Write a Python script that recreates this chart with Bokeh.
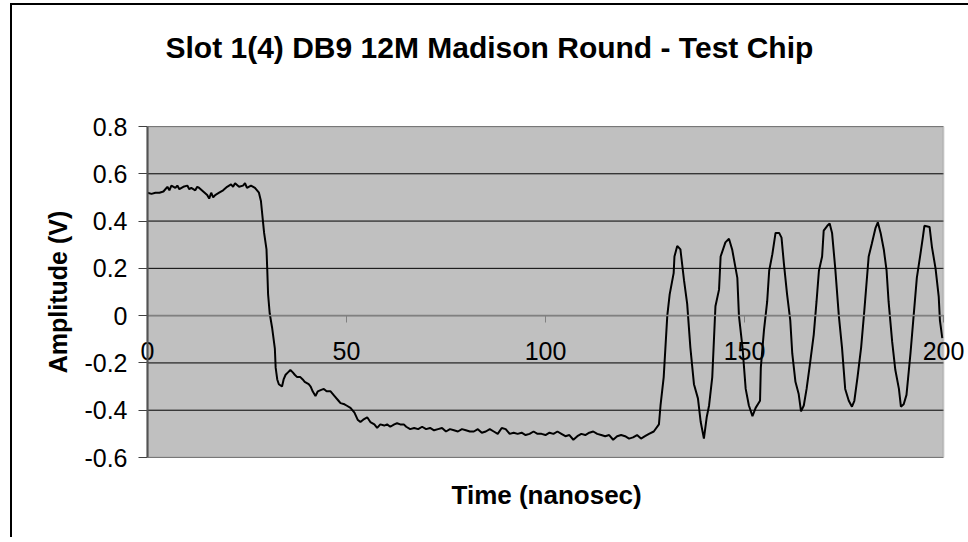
from bokeh.plotting import figure
from bokeh.models import (FixedTicker, Title, Range1d, LinearAxis, BoxAnnotation)
from bokeh.embed import file_html
from bokeh.resources import INLINE

title_text = "Slot 1(4) DB9 12M Madison Round - Test Chip"
x_title = "Time (nanosec)"
y_title = "Amplitude (V)"
x_ticks = [0, 50, 100, 150, 200]
x_tick_labels = ["0", "50", "100", "150", "200"]
y_ticks = [-0.6, -0.4, -0.2, 0, 0.2, 0.4, 0.6, 0.8]
y_tick_labels = ["-0.6", "-0.4", "-0.2", "0", "0.2", "0.4", "0.6", "0.8"]

time_ns = [
    0, 1, 2, 3, 4, 5, 5.5, 6, 7, 7.5, 8, 9, 10, 10.5, 11, 12, 12.5, 13, 14, 15,
    15.5, 16, 16.5, 17, 18, 19, 20, 21, 21.5, 22, 23, 24, 24.5, 25, 26, 27, 28,
    28.5, 29.3, 29.9, 30.1, 30.3, 30.7, 31.3, 32, 32.2, 32.6, 33, 33.8, 34.2,
    34.7, 35.3, 35.9, 36.5, 37, 37.6, 38.4, 39, 39.5, 40.5, 41, 41.5, 42.2,
    42.8, 43.5, 44.3, 45, 46, 47, 48, 48.5, 49.5, 50, 51, 52, 52.8, 53.5, 54.2,
    55.2, 56, 57, 57.7, 58.5, 59.5, 60.2, 61, 62, 62.7, 63.5, 64.4, 65, 66, 67,
    68, 69, 70, 71, 72, 73, 74, 75, 76, 77, 78, 79, 80, 81, 82, 83, 84, 85, 86,
    87, 88, 89, 90, 91, 92, 93, 94, 95, 96, 97, 98, 99, 100, 101, 102, 103, 104,
    105, 106, 107, 108, 109, 110, 111, 112, 113, 114, 115, 116, 117, 118, 119,
    120, 121, 122, 123, 124, 125, 126, 127.2, 128.5, 128.9, 129.7, 130.6, 131.2,
    132.2, 132.4, 133.1, 133.9, 134.8, 135.6, 136.4, 137.3, 138.3, 139, 139.8,
    140.5, 141.1, 141.9, 142.7, 143.6, 144, 145.2, 146.1, 146.9, 148.2, 148.6,
    149.5, 150.3, 151.1, 152, 152.8, 153.9, 154.1, 154.9, 155.7, 156.2, 157,
    157.8, 158.7, 159.3, 159.9, 160.7, 161.5, 162, 162.8, 163.6, 164.2, 164.9,
    165.6, 166.4, 167.4, 168.1, 168.7, 169.5, 169.9, 170.8, 171.4, 172, 172.8,
    173.7, 174.5, 175.3, 176.2, 177, 177.6, 178.4, 179.3, 180.1, 181.2, 182,
    182.9, 183.5, 184.2, 185, 185.7, 186.2, 187.1, 187.9, 188.8, 189.3, 190,
    190.7, 191.7, 192.5, 193.3, 194.2, 194.8, 195.2, 196.5, 197.1, 198, 198.8,
    199.1, 199.7,
]
amplitude_v = [
    0.52, 0.515, 0.52, 0.52, 0.525, 0.545, 0.53, 0.55, 0.54, 0.55, 0.535, 0.545,
    0.55, 0.535, 0.54, 0.53, 0.545, 0.54, 0.525, 0.51, 0.495, 0.52, 0.50, 0.51,
    0.52, 0.53, 0.545, 0.555, 0.545, 0.56, 0.545, 0.55, 0.56, 0.54, 0.55, 0.54,
    0.52, 0.485, 0.35, 0.28, 0.19, 0.09, 0.01, -0.05, -0.14, -0.22, -0.27,
    -0.29, -0.30, -0.27, -0.25, -0.24, -0.23, -0.24, -0.25, -0.26, -0.26, -0.27,
    -0.28, -0.29, -0.30, -0.32, -0.34, -0.32, -0.315, -0.31, -0.32, -0.32,
    -0.34, -0.36, -0.37, -0.375, -0.38, -0.39, -0.41, -0.44, -0.45, -0.44,
    -0.43, -0.45, -0.46, -0.475, -0.46, -0.465, -0.46, -0.47, -0.46, -0.455,
    -0.46, -0.46, -0.47, -0.48, -0.475, -0.48, -0.47, -0.48, -0.475, -0.485,
    -0.48, -0.475, -0.49, -0.48, -0.485, -0.49, -0.48, -0.485, -0.49, -0.49,
    -0.48, -0.495, -0.49, -0.48, -0.49, -0.50, -0.475, -0.48, -0.50, -0.495,
    -0.50, -0.495, -0.505, -0.50, -0.49, -0.50, -0.50, -0.505, -0.495, -0.50,
    -0.49, -0.50, -0.51, -0.505, -0.525, -0.51, -0.50, -0.505, -0.495, -0.49,
    -0.50, -0.505, -0.51, -0.505, -0.525, -0.51, -0.505, -0.51, -0.52, -0.515,
    -0.505, -0.52, -0.51, -0.50, -0.49, -0.46, -0.38, -0.26, 0.0, 0.09, 0.18,
    0.25, 0.295, 0.28, 0.15, 0.05, -0.135, -0.29, -0.35, -0.45, -0.52, -0.43,
    -0.38, -0.26, 0.04, 0.11, 0.25, 0.31, 0.325, 0.28, 0.16, 0.0, -0.135, -0.31,
    -0.38, -0.425, -0.39, -0.36, -0.22, -0.06, 0.06, 0.19, 0.26, 0.35, 0.35,
    0.33, 0.22, 0.09, -0.02, -0.16, -0.28, -0.33, -0.405, -0.38, -0.31, -0.21,
    -0.08, 0.06, 0.19, 0.25, 0.36, 0.38, 0.39, 0.35, 0.20, 0.0, -0.135, -0.31,
    -0.36, -0.385, -0.36, -0.26, -0.135, 0.02, 0.25, 0.305, 0.37, 0.395, 0.35,
    0.28, 0.19, 0.06, -0.11, -0.23, -0.31, -0.385, -0.375, -0.335, -0.16, 0.0,
    0.16, 0.26, 0.33, 0.38, 0.375, 0.29, 0.20, 0.08, -0.02, -0.095,
]

FONT = "Liberation Sans"

# plot area: 796 px for the 200 ns span; the Bokeh frame is a little wider
# (8 px on the left, 23 px on the right) so the end tick labels are not clipped
X0, X1 = x_ticks[0], x_ticks[-1]
Y0, Y1 = y_ticks[0], y_ticks[-1]
PLOT_W = 796
px_per_ns = PLOT_W / (X1 - X0)
PAD_L, PAD_R = 8, 23

p = figure(
    frame_width=PLOT_W + PAD_L + PAD_R, frame_height=331,
    x_range=Range1d(X0 - PAD_L / px_per_ns, X1 + PAD_R / px_per_ns),
    y_range=Range1d(Y0, Y1),
    output_backend="svg", toolbar_location=None, title=None,
    min_border_left=147 - PAD_L, min_border_right=2,
    min_border_top=125, min_border_bottom=80,
    background_fill_color=None, border_fill_color=None,
)
p.outline_line_color = None
# outer chart border (only its left and top edges are inside the window)
p.styles = {
    "background": (
        "linear-gradient(#000, #000) 10px 3px / 2px 3000px no-repeat, "
        "linear-gradient(#000, #000) 10px 3px / 3000px 2px no-repeat, #ffffff"
    )
}

# titles: a thin spacer next to the frame, then the chart title
spacer = Title(text=" ", text_font_size="1px", standoff=32)
p.add_layout(spacer, "above")
main_title = Title(text=title_text, text_font=FONT, text_font_size="30px",
                   text_font_style="bold", align="left", offset=26,
                   standoff=56, text_color="black")
p.add_layout(main_title, "above")

xt = Title(text=x_title, text_font=FONT, text_font_size="26px",
           text_font_style="bold", align="left", offset=312, standoff=41,
           text_color="black")
p.add_layout(xt, "below")

# grey plot area with its grey border
p.add_layout(BoxAnnotation(left=X0, right=X1, bottom=Y0, top=Y1,
                           fill_color="#C0C0C0", fill_alpha=1,
                           line_color=None, level="underlay"))

p.xgrid.visible = False
p.ygrid.visible = False
p.segment(x0=X0, x1=X1, y0=y_ticks, y1=y_ticks, line_color="black", line_width=1)

p.line(time_ns, amplitude_v, line_color="black", line_width=2)

p.add_layout(BoxAnnotation(left=X0, right=X1, bottom=Y0, top=Y1,
                           fill_color=None, line_color="#808080", line_width=2))

# left axis: tick marks + labels (ticks reach the plot-area edge)
ya = p.yaxis[0]
ya.ticker = FixedTicker(ticks=y_ticks)
ya.major_label_overrides = {t: s for t, s in zip(y_ticks, y_tick_labels)}
ya.axis_label = y_title
ya.axis_label_text_font = FONT
ya.axis_label_text_font_size = "25px"
ya.axis_label_text_font_style = "bold"
ya.axis_label_text_color = "black"
ya.axis_label_standoff = 9
ya.major_label_text_font = FONT
ya.major_label_text_font_size = "25px"
ya.major_label_text_color = "black"
ya.major_label_standoff = 11
ya.major_tick_out = 1
ya.major_tick_in = PAD_L
ya.minor_tick_out = 0
ya.minor_tick_in = 0
ya.axis_line_color = None
ya.major_tick_line_color = "#404040"
ya.major_tick_line_width = 1

# the vertical axis line at x = 0
yline = LinearAxis(fixed_location=X0, ticker=FixedTicker(ticks=[]),
                   bounds=(Y0, Y1), axis_line_color="#404040", axis_line_width=2,
                   major_tick_line_color=None, minor_tick_line_color=None)
p.add_layout(yline, "left")

# x axis crossing at y = 0 (Excel style)
xa = p.xaxis[0]
xa.fixed_location = 0
xa.bounds = (X0, X1)
xa.ticker = FixedTicker(ticks=x_ticks)
xa.major_label_overrides = {t: s for t, s in zip(x_ticks, x_tick_labels)}
xa.major_label_text_font = FONT
xa.major_label_text_font_size = "25px"
xa.major_label_text_color = "black"
xa.major_label_standoff = 19
xa.major_tick_out = 7
xa.major_tick_in = 0
xa.minor_tick_out = 0
xa.minor_tick_in = 0
xa.axis_line_color = "#808080"
xa.axis_line_width = 1.5
xa.major_tick_line_color = "#808080"

open("out.html", "w").write(file_html(p, INLINE))
